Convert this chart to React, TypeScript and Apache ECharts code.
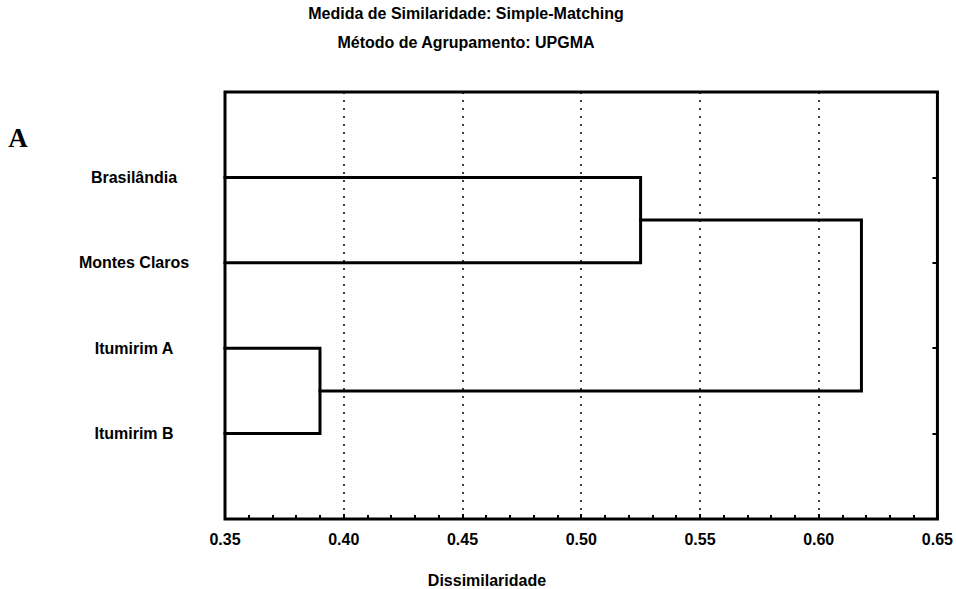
import React, { useEffect, useRef } from "react";
import * as echarts from "echarts";

const titleLines = ["Medida de Similaridade: Simple-Matching", "Método de Agrupamento: UPGMA"];
const panelLetter = "A";
const axisName = "Dissimilaridade";
const leaves = ["Brasilândia", "Montes Claros", "Itumirim A", "Itumirim B"];
// merge pairs: indices < leaves.length are leaves; higher refer to earlier merges
const mergePairs: [number, number][] = [
  [0, 1],
  [2, 3],
  [4, 5],
];
const mergeHeights = [0.525, 0.39, 0.618];
const xMin = 0.35;
const xMax = 0.65;
const xStep = 0.05;

export default function App() {
  const ref = useRef<HTMLDivElement>(null);
  useEffect(() => {
    if (!ref.current) return;
    const chart = echarts.init(ref.current, null, { renderer: "svg" });
    const font = "'Liberation Sans', Arial, sans-serif";

    // node positions: [x (height), y (position)]
    const nodes: [number, number][] = leaves.map((_, i) => [xMin, i + 1]);
    const series: any[] = [];
    mergePairs.forEach(([a, b], k) => {
      const h = mergeHeights[k];
      const na = nodes[a];
      const nb = nodes[b];
      series.push({
        type: "line",
        data: [
          [na[0], na[1]],
          [h, na[1]],
          [h, nb[1]],
          [nb[0], nb[1]],
        ],
        showSymbol: false,
        symbol: "none",
        lineStyle: { color: "#000", width: 3, cap: "square", join: "miter" },
        xAxisIndex: 0,
        yAxisIndex: 0,
        z: 5,
      });
      nodes.push([h, (na[1] + nb[1]) / 2]);
    });

    chart.setOption({
      animation: false,
      grid: {
        left: 225,
        right: 16,
        top: 92,
        bottom: 70,
        show: true,
        borderColor: "#000",
        borderWidth: 3,
        backgroundColor: "transparent",
      },
      xAxis: {
        type: "value",
        position: "bottom",
        min: xMin,
        max: xMax,
        interval: xStep,
        axisLine: { show: false, onZero: false },
        axisTick: { show: true, inside: true, length: 5, lineStyle: { color: "#000", width: 2 } },
        minorTick: { show: true, splitNumber: 5, length: 4, lineStyle: { color: "#000", width: 2 } },
        splitLine: { show: true, lineStyle: { color: "#000", width: 1.5, type: [2, 6] } },
        axisLabel: {
          color: "#000",
          fontSize: 16,
          fontWeight: "bold",
          fontFamily: font,
          margin: 12,
          formatter: (v: number) => v.toFixed(2),
        },
      },
      yAxis: [
        {
          type: "value",
          min: 0,
          max: leaves.length + 1,
          interval: 1,
          inverse: true,
          axisLine: { show: false, onZero: false },
          axisTick: { show: false },
          splitLine: { show: false },
          axisLabel: {
            color: "#000",
            fontSize: 16,
            fontWeight: "bold",
            fontFamily: font,
            align: "center",
            margin: 91,
            formatter: (v: number) => leaves[Math.round(v) - 1] ?? "",
          },
        },
        {
          type: "value",
          position: "right",
          min: 0,
          max: leaves.length + 1,
          interval: 1,
          inverse: true,
          axisLine: { show: false, onZero: false },
          axisTick: { show: true, inside: true, length: 5, lineStyle: { color: "#000", width: 2 } },
          splitLine: { show: false },
          axisLabel: { show: false },
        },
      ],
      graphic: [
        {
          type: "text",
          x: 466,
          y: 13,
          style: {
            text: titleLines[0],
            fill: "#000",
            font: `bold 16px ${font}`,
            align: "center",
            verticalAlign: "middle",
          },
        },
        {
          type: "text",
          x: 466,
          y: 42,
          style: {
            text: titleLines[1],
            fill: "#000",
            font: `bold 16px ${font}`,
            align: "center",
            verticalAlign: "middle",
          },
        },
        {
          type: "text",
          x: 487,
          y: 580,
          style: {
            text: axisName,
            fill: "#000",
            font: `bold 16px ${font}`,
            align: "center",
            verticalAlign: "middle",
          },
        },
        {
          type: "text",
          x: 18,
          y: 138,
          style: {
            text: panelLetter,
            fill: "#000",
            font: `bold 27px 'Liberation Serif', 'Times New Roman', serif`,
            align: "center",
            verticalAlign: "middle",
          },
        },
      ],
      series,
    });
    return () => chart.dispose();
  }, []);
  return (
    <div
      ref={ref}
      style={{ position: "fixed", left: 0, top: 0, width: 956, height: 589, background: "#fff" }}
    />
  );
}
